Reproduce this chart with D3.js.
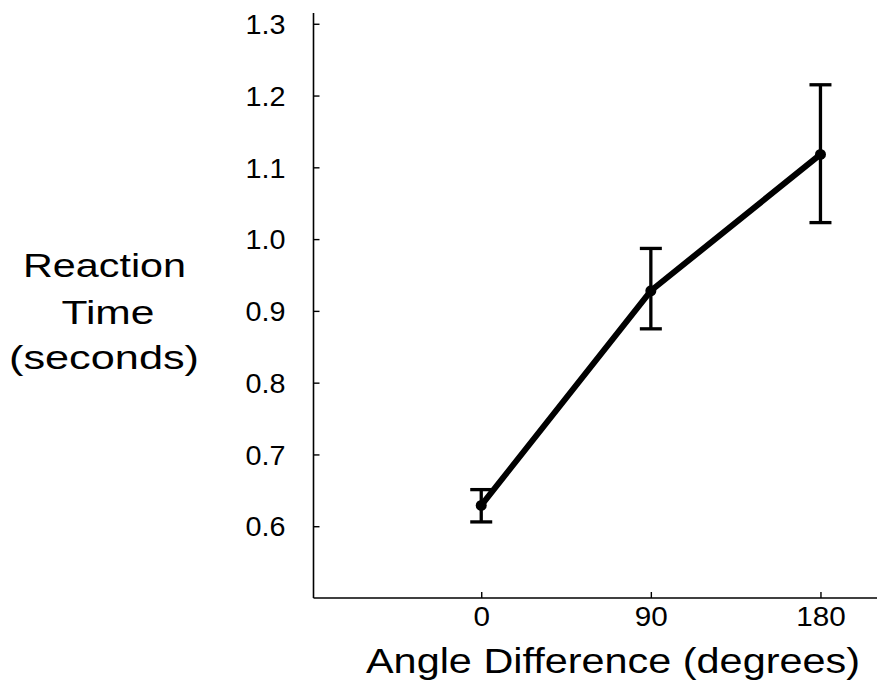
<!DOCTYPE html>
<html><head><meta charset="utf-8">
<script src="https://cdn.jsdelivr.net/npm/d3@7"></script>
<style>html,body{margin:0;padding:0;background:#fff;}svg{display:block;}</style>
</head><body>
<svg id="c" width="877" height="688"></svg>
<script>
const angles = [0, 90, 180];
const meanRT = [0.629, 0.928, 1.118];
const lowerRT = [0.606, 0.875, 1.023];
const upperRT = [0.651, 0.987, 1.215];
const yTicks = [0.6, 0.7, 0.8, 0.9, 1.0, 1.1, 1.2, 1.3];
const xTicks = [0, 90, 180];
const yTitle = ["Reaction", "Time", "(seconds)"];
const xTitle = "Angle Difference (degrees)";

const data = angles.map((a, i) => ({a, m: meanRT[i], lo: lowerRT[i], hi: upperRT[i]}));
const svg = d3.select("#c");
const font = "'Liberation Sans', Arial, Helvetica, sans-serif";

const x = d3.scaleLinear().domain([-89, 210]).range([313.5, 877]);
const y = d3.scaleLinear().domain([0.5, 1.315]).range([598, 13]);

const yAx = svg.append("g").attr("transform", `translate(${x.range()[0]},0)`)
  .call(d3.axisRight(y).tickValues(yTicks).tickSize(6).tickFormat(d3.format(".1f")));
yAx.select(".domain").attr("d", `M0,${y.range()[0]}V${y.range()[1]}`).attr("stroke-width", 1.6);
yAx.selectAll(".tick line").attr("stroke-width", 1.4);
yAx.selectAll(".tick text").attr("x", -28).attr("text-anchor", "end")
  .attr("font-family", font).attr("font-size", 27).attr("fill", "#000").attr("dy", "0.36em")
  .attr("textLength", 40).attr("lengthAdjust", "spacingAndGlyphs");

const xAx = svg.append("g").attr("transform", `translate(0,${y.range()[0]})`)
  .call(d3.axisTop(x).tickValues(xTicks).tickSize(6).tickFormat(d3.format("d")));
xAx.select(".domain").attr("d", `M${x.range()[0]},0H${x.range()[1]}`).attr("stroke-width", 1.6);
xAx.selectAll(".tick line").attr("stroke-width", 1.4);
xAx.selectAll(".tick text").attr("y", 9).attr("dy", "0.71em")
  .attr("font-family", font).attr("font-size", 27).attr("fill", "#000")
  .attr("textLength", d => String(d).length * 16.5).attr("lengthAdjust", "spacingAndGlyphs");

// error bars
const eb = svg.append("g").attr("stroke", "#000").attr("stroke-width", 3.3);
eb.selectAll("line.v").data(data).join("line").attr("class", "v")
  .attr("x1", d => x(d.a)).attr("x2", d => x(d.a)).attr("y1", d => y(d.lo)).attr("y2", d => y(d.hi));
eb.selectAll("line.t").data(data).join("line").attr("class", "t")
  .attr("x1", d => x(d.a) - 11).attr("x2", d => x(d.a) + 11).attr("y1", d => y(d.hi)).attr("y2", d => y(d.hi));
eb.selectAll("line.b").data(data).join("line").attr("class", "b")
  .attr("x1", d => x(d.a) - 11).attr("x2", d => x(d.a) + 11).attr("y1", d => y(d.lo)).attr("y2", d => y(d.lo));

svg.append("path").datum(data)
  .attr("d", d3.line().x(d => x(d.a)).y(d => y(d.m)))
  .attr("fill", "none").attr("stroke", "#000").attr("stroke-width", 6).attr("stroke-linejoin", "round");
svg.selectAll("circle.pt").data(data).join("circle").attr("class", "pt")
  .attr("cx", d => x(d.a)).attr("cy", d => y(d.m)).attr("r", 5.5).attr("fill", "#000");

svg.append("text").attr("x", 613).attr("y", 673).attr("text-anchor", "middle")
  .attr("font-family", font).attr("font-size", 35).attr("fill", "#000")
  .attr("textLength", 494).attr("lengthAdjust", "spacingAndGlyphs").text(xTitle);

const yl = [277, 324, 369];
const yw = [163, 93, 190];
const yc = [104.5, 108, 104];
svg.selectAll("text.yt").data(yTitle).join("text").attr("class", "yt")
  .attr("x", (d, i) => yc[i]).attr("y", (d, i) => yl[i]).attr("text-anchor", "middle")
  .attr("font-family", font).attr("font-size", 34).attr("fill", "#000")
  .attr("textLength", (d, i) => yw[i]).attr("lengthAdjust", "spacingAndGlyphs").text(d => d);
</script>
</body></html>
